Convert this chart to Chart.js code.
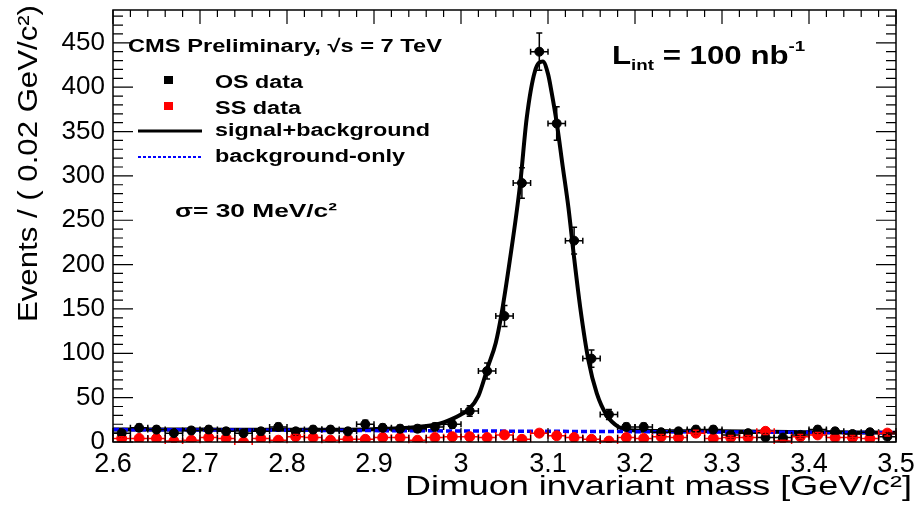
<!DOCTYPE html>
<html>
<head>
<meta charset="utf-8">
<script src="https://cdn.jsdelivr.net/npm/chart.js@4"></script>
<style>
  body { margin: 0; background: #fff; }
  #chart1 { display: block; }
</style>
</head>
<body>
<canvas id="chart1" width="916" height="506"></canvas>
<script>
// DATA
// -----------------------------
// bin centres, 0.02 GeV bins
let massBins = [
  2.61, 2.63, 2.65, 2.67, 2.69, 2.71, 2.73, 2.75, 2.77, 2.79,
  2.81, 2.83, 2.85, 2.87, 2.89, 2.91, 2.93, 2.95, 2.97, 2.99,
  3.01, 3.03, 3.05, 3.07, 3.09, 3.11, 3.13, 3.15, 3.17, 3.19,
  3.21, 3.23, 3.25, 3.27, 3.29, 3.31, 3.33, 3.35, 3.37, 3.39,
  3.41, 3.43, 3.45, 3.47, 3.49,
];
// opposite sign pairs
let osCounts = [
  10, 16, 14, 10, 13, 14, 12, 10, 12, 17,
  12, 14, 14, 12, 20, 16, 15, 15, 17, 20,
  35, 80, 142, 292, 440, 359, 227, 94, 31, 17,
  17, 11, 12, 14, 14, 8, 10, 5, 5, 8,
  14, 12, 9, 11, 6,
];
// same sign pairs
let ssCounts = [
  4, 4, 4, 1, 2, 5, 4, 0, 4, 2,
  6, 5, 2, 3, 3, 5, 5, 2, 5, 6,
  6, 5, 8, 3, 10, 7, 5, 3, 1, 5,
  4, 6, 5, 10, 4, 5, 5, 12, 1, 6,
  8, 5, 5, 4, 10,
];
// signal+background fit
let fitMass = [
  2.6, 2.7, 2.8, 2.9, 2.93, 2.95, 2.97, 2.98, 2.99, 3.0,
  3.008, 3.02, 3.031, 3.04, 3.046, 3.056, 3.068, 3.0755, 3.085, 3.094,
  3.1, 3.104, 3.11, 3.117, 3.1235, 3.1295, 3.137, 3.1465, 3.156, 3.1675,
  3.181, 3.19, 3.2, 3.3, 3.4, 3.5,
];
let fitValues = [
  14.2, 14, 13.8, 14.5, 15.5, 17, 19.5, 22, 26, 31,
  36, 52, 85, 112, 141, 204, 291, 365, 418, 429,
  415, 395, 360, 310, 264, 212, 152, 92, 55, 30,
  17, 14, 13, 12, 11, 10.5,
];
// background-only fit
let bkgMass = [2.6, 3.5];
let bkgValues = [14, 10.5];

let xTicks = [2.6, 2.7, 2.8, 2.9, 3.0, 3.1, 3.2, 3.3, 3.4, 3.5];
let yTicks = [0, 50, 100, 150, 200, 250, 300, 350, 400, 450];

const FONT = '"Liberation Sans", Arial, sans-serif';

// text squeezed / stretched to a given width (ROOT canvas was stretched)
function fitText(ctx, text, x, y, font, width) {
  ctx.save();
  ctx.font = font;
  const w = ctx.measureText(text).width;
  ctx.translate(x, y);
  ctx.scale(width / w, 1);
  ctx.fillText(text, 0, 0);
  ctx.restore();
}
function stretchText(ctx, text, x, y, font, sx) {
  ctx.save();
  ctx.font = font;
  const w = ctx.measureText(text).width;
  ctx.translate(x, y);
  ctx.scale(sx, 1);
  ctx.fillText(text, 0, 0);
  ctx.restore();
  return x + w * sx;
}

const rootStyle = {
  id: 'rootStyle',
  afterDatasetsDraw(chart) {
    const { ctx, scales: { x, y } } = chart;
    ctx.save();
    ctx.lineWidth = 1.5;
    [[osCounts, '#000'], [ssCounts, '#ff0000']].forEach(([vals, col]) => {
      ctx.strokeStyle = col;
      vals.forEach((v, i) => {
        const px = x.getPixelForValue(massBins[i]);
        const py = y.getPixelForValue(v);
        const xl = x.getPixelForValue(massBins[i] - 0.01);
        const xr = x.getPixelForValue(massBins[i] + 0.01);
        const e = Math.sqrt(v);
        ctx.beginPath();
        ctx.moveTo(xl, py); ctx.lineTo(xr, py);
        ctx.moveTo(xl, py - 3); ctx.lineTo(xl, py + 3);
        ctx.moveTo(xr, py - 3); ctx.lineTo(xr, py + 3);
        if (e > 0) {
          const yt = y.getPixelForValue(v + e);
          const yb = y.getPixelForValue(Math.max(v - e, 0));
          ctx.moveTo(px, yt); ctx.lineTo(px, yb);
          ctx.moveTo(px - 3, yt); ctx.lineTo(px + 3, yt);
          ctx.moveTo(px - 3, yb); ctx.lineTo(px + 3, yb);
        }
        ctx.stroke();
      });
    });
    ctx.restore();
  },
  afterDraw(chart) {
    const { ctx, chartArea: a, scales: { x, y } } = chart;
    ctx.save();
    // frame
    ctx.strokeStyle = '#000';
    ctx.lineWidth = 1.5;
    ctx.strokeRect(a.left, a.top, a.right - a.left, a.bottom - a.top);
    // ticks, pointing inwards on all four sides
    ctx.lineWidth = 1.2;
    ctx.beginPath();
    for (let k = 0; k <= 48; k++) {
      const v = k * 10;
      const py = y.getPixelForValue(v);
      if (py < a.top) break;
      const len = v % 50 === 0 ? 20 : 10;
      ctx.moveTo(a.left, py); ctx.lineTo(a.left + len, py);
      ctx.moveTo(a.right, py); ctx.lineTo(a.right - len, py);
    }
    for (let k = 0; k <= 45; k++) {
      const px = x.getPixelForValue(2.6 + k * 0.02);
      const len = k % 5 === 0 ? 14 : 7;
      ctx.moveTo(px, a.top); ctx.lineTo(px, a.top + len);
      ctx.moveTo(px, a.bottom); ctx.lineTo(px, a.bottom - len);
    }
    ctx.stroke();

    // axis titles
    ctx.fillStyle = '#000';
    fitText(ctx, 'Dimuon invariant mass [GeV/c²]', 405, 495, '28px ' + FONT, 507);
    ctx.save();
    ctx.translate(37, 322);
    ctx.rotate(-Math.PI / 2);
    fitText(ctx, 'Events / ( 0.02 GeV/c²)', 0, 0, '27px ' + FONT, 317);
    ctx.restore();

    // legend
    fitText(ctx, 'CMS Preliminary, √s = 7 TeV', 128, 52, 'bold 18px ' + FONT, 314);
    ctx.fillStyle = '#000';
    ctx.fillRect(164, 76, 9, 8);
    ctx.fillStyle = '#ff0000';
    ctx.fillRect(164, 102, 9, 8);
    ctx.fillStyle = '#000';
    fitText(ctx, 'OS data', 215, 88, 'bold 18px ' + FONT, 88);
    fitText(ctx, 'SS data', 215, 114, 'bold 18px ' + FONT, 86);
    fitText(ctx, 'signal+background', 215, 136, 'bold 18px ' + FONT, 215);
    fitText(ctx, 'background-only', 215, 162, 'bold 18px ' + FONT, 190);
    ctx.strokeStyle = '#000';
    ctx.lineWidth = 3;
    ctx.beginPath(); ctx.moveTo(138, 131); ctx.lineTo(202, 131); ctx.stroke();
    ctx.strokeStyle = '#0000ff';
    ctx.lineWidth = 2;
    ctx.setLineDash([3, 2]);
    ctx.beginPath(); ctx.moveTo(138, 157); ctx.lineTo(202, 157); ctx.stroke();
    ctx.setLineDash([]);

    fitText(ctx, 'σ= 30 MeV/c²', 175, 217, 'bold 19px ' + FONT, 162);

    // luminosity
    let lx = 612;
    lx = stretchText(ctx, 'L', lx, 64, 'bold 25px ' + FONT, 1.25);
    lx = stretchText(ctx, 'int', lx, 70, 'bold 15px ' + FONT, 1.25);
    lx = stretchText(ctx, ' = 100 nb', lx, 64, 'bold 25px ' + FONT, 1.25);
    stretchText(ctx, '-1', lx, 51, 'bold 15px ' + FONT, 1.25);
    ctx.restore();
  },
};

// RENDER CHART
// -----------------------------
new Chart(document.getElementById('chart1'), {
  type: 'scatter',
  data: {
    datasets: [
      {
        label: 'OS data',
        data: massBins.map((m, i) => ({ x: m, y: osCounts[i] })),
        backgroundColor: '#000',
        borderColor: '#000',
        pointRadius: 4.5,
        order: 0,
      },
      {
        label: 'SS data',
        data: massBins.map((m, i) => ({ x: m, y: ssCounts[i] })),
        backgroundColor: '#ff0000',
        borderColor: '#ff0000',
        pointRadius: 5,
        order: 1,
      },
      {
        type: 'line',
        label: 'background-only',
        data: bkgMass.map((m, i) => ({ x: m, y: bkgValues[i] })),
        borderColor: '#0000ff',
        borderWidth: 3.5,
        borderDash: [6, 3],
        pointRadius: 0,
        order: 2,
      },
      {
        type: 'line',
        label: 'signal+background',
        data: fitMass.map((m, i) => ({ x: m, y: fitValues[i] })),
        borderColor: '#000',
        borderWidth: 4,
        pointRadius: 0,
        cubicInterpolationMode: 'monotone',
        order: 3,
      },
    ],
  },
  options: {
    responsive: false,
    animation: false,
    layout: { padding: { top: 10, right: 20, left: 0, bottom: 0 } },
    plugins: {
      legend: { display: false },
      tooltip: { enabled: false },
    },
    scales: {
      x: {
        type: 'linear',
        min: 2.6,
        max: 3.5,
        grid: { display: false, drawTicks: false },
        border: { display: false },
        afterBuildTicks: (s) => { s.ticks = xTicks.map((v) => ({ value: v })); },
        afterFit: (s) => { s.height = 64; s.paddingLeft = 0; s.paddingRight = 0; },
        ticks: {
          color: '#000',
          font: { family: FONT, size: 27 },
          padding: 6,
          maxRotation: 0,
          autoSkip: false,
          callback: (v) => String(+v.toFixed(1)),
        },
      },
      y: {
        type: 'linear',
        min: 0,
        max: 487,
        grid: { display: false, drawTicks: false },
        border: { display: false },
        afterBuildTicks: (s) => { s.ticks = yTicks.map((v) => ({ value: v })); },
        afterFit: (s) => { s.width = 113; s.paddingTop = 0; s.paddingBottom = 0; },
        ticks: {
          color: '#000',
          font: { family: FONT, size: 26 },
          padding: 8,
        },
      },
    },
  },
  plugins: [rootStyle],
});
</script>
</body>
</html>
